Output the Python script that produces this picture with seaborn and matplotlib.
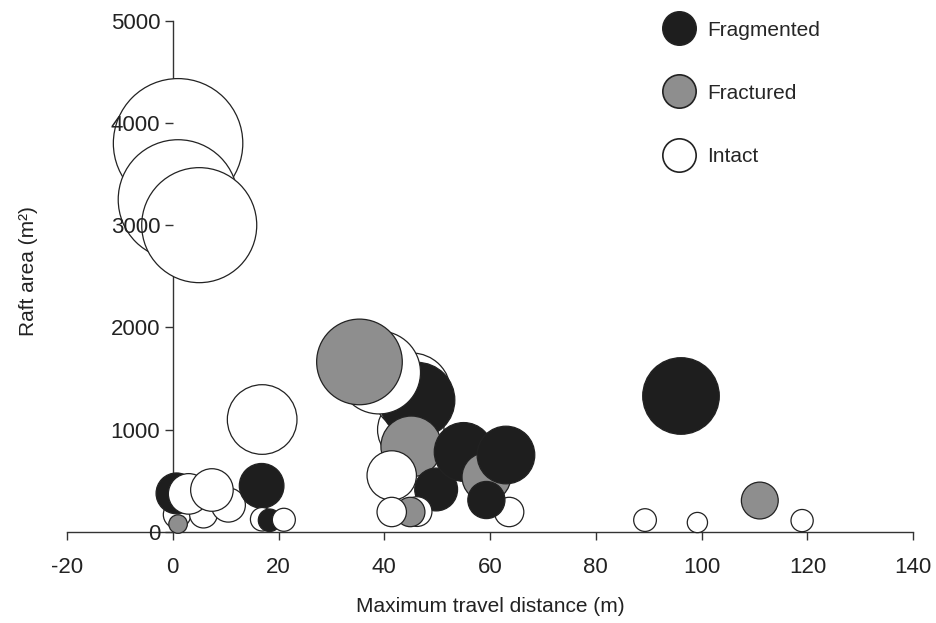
import pandas as pd
import seaborn as sns
import matplotlib.pyplot as plt
from matplotlib.lines import Line2D

# Bubble data, listed in drawing order (later rows on top)
distance = [1.0, 1.0, 5.0,
            0.8, 5.8, 10.5, 0.7, 3.0, 7.4, 1.0,
            16.9, 16.8, 16.9, 18.3, 21.0,
            45.0, 45.2, 46.2, 39.0, 35.3, 45.1, 49.8, 41.4, 46.2, 44.9, 41.4,
            55.0, 59.3, 63.0, 63.6, 59.3,
            96.1, 89.3, 99.2, 111.0, 119.0]
area = [3800, 3250, 3000,
        170, 176, 264, 378, 373, 411, 78,
        1100, 452, 125, 115, 120,
        1000, 1370, 1290, 1560, 1663, 837, 416, 553, 200, 196, 196,
        783, 538, 753, 196, 313,
        1330, 117, 93, 308, 112]
condition = ['Intact', 'Intact', 'Intact',
             'Intact', 'Intact', 'Intact', 'Fragmented', 'Intact', 'Intact', 'Fractured',
             'Intact', 'Fragmented', 'Intact', 'Fragmented', 'Intact',
             'Intact', 'Intact', 'Fragmented', 'Intact', 'Fractured', 'Fractured',
             'Fragmented', 'Intact', 'Intact', 'Fractured', 'Intact',
             'Fragmented', 'Fractured', 'Fragmented', 'Intact', 'Fragmented',
             'Fragmented', 'Intact', 'Intact', 'Fractured', 'Intact']

categories = ['Fragmented', 'Fractured', 'Intact']
x_ticks = [-20, 0, 20, 40, 60, 80, 100, 120, 140]
y_ticks = [0, 1000, 2000, 3000, 4000, 5000]

df = pd.DataFrame({'distance': distance, 'area': area, 'condition': condition})

colors = {'Fragmented': '#1e1e1e', 'Fractured': '#8e8e8e', 'Intact': '#ffffff'}
edge = '#222222'

sns.set_style('ticks')
plt.rcParams['font.family'] = ['Liberation Sans', 'DejaVu Sans']
plt.rcParams['axes.unicode_minus'] = False

fig = plt.figure(figsize=(9.36, 6.23), dpi=100)
ax = fig.add_axes([0.0716, 0.146, 0.904, 0.821])

# marker area proportional to raft area (radius ~1.05 px per sqrt(m2))
c = 2.0736 * 1.05 ** 2
amin, amax = min(area), max(area)
sns.scatterplot(data=df, x='distance', y='area', hue='condition', palette=colors,
                size='area', sizes=(c * amin, c * amax), size_norm=(amin, amax),
                edgecolor=edge, linewidth=0.9, alpha=1, legend=False,
                clip_on=False, zorder=3, ax=ax)

ax.set_xlim(-20, 140)
ax.set_ylim(0, 5000)
ax.set_xticks(x_ticks)
ax.set_yticks(y_ticks)
ax.spines['left'].set_position(('data', 0))
ax.spines['bottom'].set_position(('data', 0))
for s in ['top', 'right']:
    ax.spines[s].set_visible(False)
for s in ['left', 'bottom']:
    ax.spines[s].set_color('#333333')
    ax.spines[s].set_linewidth(1.0)
ax.tick_params(axis='both', labelsize=16, length=6, width=1.0, color='#333333',
               labelcolor='#222222', direction='out')
ax.tick_params(axis='x', pad=12)
ax.tick_params(axis='y', pad=3)
ax.yaxis.set_zorder(4)

ax.set_xlabel('Maximum travel distance (m)', fontsize=15, color='#222222', labelpad=14)
ax.set_ylabel('Raft area (m²)', fontsize=15, color='#222222')
ax.yaxis.set_label_coords(-0.034, 0.51)

handles = [Line2D([], [], marker='o', linestyle='none', markersize=24,
                  markerfacecolor=colors[k], markeredgecolor=edge,
                  markeredgewidth=1.2, label=k) for k in categories]
fig.legend(handles=handles, loc='upper left', bbox_to_anchor=(0.708, 0.967),
           frameon=False, fontsize=15, borderpad=0, borderaxespad=0,
           handlelength=1.6, handletextpad=0.55, labelspacing=2.12)

plt.savefig('out.png', dpi=100)
